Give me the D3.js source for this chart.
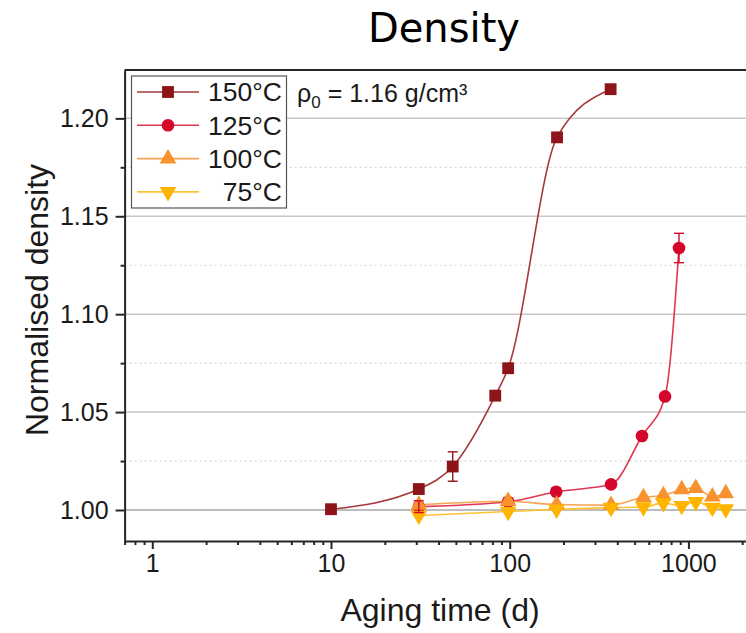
<!DOCTYPE html>
<html>
<head>
<meta charset="utf-8">
<script src="https://cdn.jsdelivr.net/npm/d3@7"></script>
<style>
  body { margin: 0; background: #fff; }
  svg { display: block; font-family: "Liberation Sans", Arial, sans-serif; }
</style>
</head>
<body>
<div class="graph-container"></div>
<script>
// aging time (days) and normalised density
var times150 = [10, 31, 48, 83, 98, 184, 367];
var dens150 = [1.0004, 1.0107, 1.0222, 1.0584, 1.0724, 1.1903, 1.2149];
var err150 = [0, 0, 0.0075, 0, 0, 0, 0];

var times125 = [31, 98, 182, 369, 550, 740, 886];
var dens125 = [1.0017, 1.0042, 1.0093, 1.0131, 1.0378, 1.0580, 1.1338];
var err125 = [0.003, 0, 0, 0, 0, 0, 0.0075];

var times100 = [31, 98, 183, 369, 560, 724, 917, 1099, 1361, 1618];
var dens100 = [1.0026, 1.0045, 1.0028, 1.0025, 1.0065, 1.0075, 1.0105, 1.0112, 1.0068, 1.0085];

var times75 = [31, 98, 183, 369, 560, 724, 917, 1099, 1361, 1618];
var dens75 = [0.9972, 0.9992, 1.0003, 1.0012, 1.0015, 1.0035, 1.0022, 1.0042, 1.0012, 1.0005];

var seriesNames = ['150°C', '125°C', '100°C', '75°C'];
var xMajorTicks = [1, 10, 100, 1000];
var yMajorTicks = [1.00, 1.05, 1.10, 1.15, 1.20];
var yMinorTicks = [1.025, 1.075, 1.125, 1.175];

var svgWidth = 746;
var svgHeight = 633;
var plotLeft = 124.6;
var plotRight = 765.5;
var plotTop = 70;
var plotBottom = 541;

// build the series list from the arrays above
var series = [
  { name: seriesNames[0], t: times150, d: dens150, e: err150, color: '#8d1519', line: '#a6393c', shape: 'square' },
  { name: seriesNames[1], t: times125, d: dens125, e: err125, color: '#d5062b', line: '#e0364f', shape: 'circle' },
  { name: seriesNames[2], t: times100, d: dens100, e: null, color: '#f7922e', line: '#f9a455', shape: 'up' },
  { name: seriesNames[3], t: times75, d: dens75, e: null, color: '#ffb400', line: '#ffc233', shape: 'down' }
];

function symbolPath(shape) {
  if (shape === 'square') return d3.symbol().type(d3.symbolSquare).size(140)();
  if (shape === 'circle') return d3.symbol().type(d3.symbolCircle).size(125)();
  return d3.symbol().type(d3.symbolTriangle).size(120)();
}

var svg = d3.select('.graph-container').append('svg')
  .attr('width', svgWidth)
  .attr('height', svgHeight);

var xScale = d3.scaleLog()
  .domain([0.7, 2700])
  .range([plotLeft, plotRight]);

var yScale = d3.scaleLinear()
  .domain([0.98417, 1.2247])
  .range([plotBottom, plotTop]);

// title
svg.append('text')
  .attr('x', 444)
  .attr('y', 42)
  .style('text-anchor', 'middle')
  .style('font-family', '"DejaVu Sans", sans-serif')
  .style('font-size', '40px')
  .text('Density');

// gridlines: solid at majors, dotted at minors
svg.append('g').selectAll('line')
  .data(yMinorTicks)
  .enter()
  .append('line')
  .attr('x1', plotLeft).attr('x2', plotRight)
  .attr('y1', function(d) { return yScale(d); })
  .attr('y2', function(d) { return yScale(d); })
  .attr('stroke', '#d6d6d6')
  .attr('stroke-width', 1.2)
  .attr('stroke-dasharray', '2,3');

svg.append('g').selectAll('line')
  .data(yMajorTicks)
  .enter()
  .append('line')
  .attr('x1', plotLeft).attr('x2', plotRight)
  .attr('y1', function(d) { return yScale(d); })
  .attr('y2', function(d) { return yScale(d); })
  .attr('stroke', function(d) { return d === 1 ? '#bdbdbd' : '#c8c8c8'; })
  .attr('stroke-width', function(d) { return d === 1 ? 2 : 1.5; });

// lines through the points
var line = d3.line()
  .x(function(p) { return xScale(p[0]); })
  .y(function(p) { return yScale(p[1]); })
  .curve(d3.curveMonotoneX);

series.forEach(function(s) {
  var pts = s.t.map(function(t, i) { return [t, s.d[i]]; });
  svg.append('path')
    .attr('d', line(pts))
    .attr('fill', 'none')
    .attr('stroke', s.line)
    .attr('stroke-width', 1.6);
});

// markers
series.forEach(function(s) {
  svg.append('g').selectAll('path')
    .data(s.t.map(function(t, i) { return [t, s.d[i]]; }))
    .enter()
    .append('path')
    .attr('d', symbolPath(s.shape))
    .attr('transform', function(p) {
      return 'translate(' + xScale(p[0]) + ',' + yScale(p[1]) + ')' + (s.shape === 'down' ? ' rotate(180)' : '');
    })
    .attr('fill', s.color);
});

// error bars
series.forEach(function(s) {
  if (!s.e) return;
  s.t.forEach(function(t, i) {
    if (!s.e[i]) return;
    var cx = xScale(t);
    var y1 = yScale(s.d[i] + s.e[i]);
    var y2 = yScale(s.d[i] - s.e[i]);
    var g = svg.append('g').attr('stroke', s.color).attr('stroke-width', 1.4);
    g.append('line').attr('x1', cx).attr('x2', cx).attr('y1', y1).attr('y2', y2);
    g.append('line').attr('x1', cx - 5).attr('x2', cx + 5).attr('y1', y1).attr('y2', y1);
    g.append('line').attr('x1', cx - 5).attr('x2', cx + 5).attr('y1', y2).attr('y2', y2);
  });
});

// x axis, major and minor ticks
var xMinorTicks = [];
[0.1, 1, 10, 100, 1000].forEach(function(dec) {
  for (var k = 2; k <= 9; k++) {
    var v = dec * k;
    if (v >= 0.7 && v <= 2700) xMinorTicks.push(v);
  }
});

svg.append('g')
  .attr('transform', 'translate(0,' + plotBottom + ')')
  .call(d3.axisBottom(xScale).tickValues(xMinorTicks).tickSize(4).tickFormat(''))
  .call(function(g) { g.select('.domain').remove(); });

var xAxis = svg.append('g')
  .attr('class', 'x-axis')
  .attr('transform', 'translate(0,' + plotBottom + ')')
  .call(d3.axisBottom(xScale).tickValues(xMajorTicks).tickSize(8).tickSizeOuter(0).tickPadding(5).tickFormat(d3.format('d')));

// y axis
svg.append('g')
  .attr('transform', 'translate(' + plotLeft + ',0)')
  .call(d3.axisLeft(yScale).tickValues(yMinorTicks).tickSize(4).tickFormat(''))
  .call(function(g) { g.select('.domain').remove(); });

var yAxis = svg.append('g')
  .attr('class', 'y-axis')
  .attr('transform', 'translate(' + plotLeft + ',0)')
  .call(d3.axisLeft(yScale).tickValues(yMajorTicks).tickSize(9).tickSizeOuter(0).tickPadding(7).tickFormat(d3.format('.2f')));

svg.selectAll('.x-axis text, .y-axis text')
  .style('font-family', '"Liberation Sans", Arial, sans-serif')
  .style('font-size', '25px')
  .attr('fill', '#1a1a1a');

svg.selectAll('.tick line, .domain')
  .attr('stroke', '#262626')
  .attr('stroke-width', 2);

// top frame line
svg.append('line')
  .attr('x1', plotLeft).attr('x2', plotRight)
  .attr('y1', plotTop).attr('y2', plotTop)
  .attr('stroke', '#262626')
  .attr('stroke-width', 2);

// axis titles
svg.append('text')
  .attr('x', 440)
  .attr('y', 621)
  .style('text-anchor', 'middle')
  .style('font-size', '32px')
  .attr('fill', '#1a1a1a')
  .text('Aging time (d)');

svg.append('text')
  .attr('transform', 'translate(48,300) rotate(-90)')
  .style('text-anchor', 'middle')
  .style('font-size', '32px')
  .attr('fill', '#1a1a1a')
  .text('Normalised density');

// legend box
var legend = svg.append('g');
legend.append('rect')
  .attr('x', 131.5).attr('y', 76)
  .attr('width', 155).attr('height', 132)
  .attr('fill', '#fff')
  .attr('stroke', '#555')
  .attr('stroke-width', 1.2);

series.forEach(function(s, i) {
  var cy = 92 + i * 33.3;
  legend.append('line')
    .attr('x1', 137).attr('x2', 199)
    .attr('y1', cy).attr('y2', cy)
    .attr('stroke', s.line)
    .attr('stroke-width', 1.6);
  legend.append('path')
    .attr('d', symbolPath(s.shape))
    .attr('transform', 'translate(168,' + cy + ')' + (s.shape === 'down' ? ' rotate(180)' : ''))
    .attr('fill', s.color);
  legend.append('text')
    .attr('x', 282)
    .attr('y', cy)
    .attr('dy', '0.35em')
    .style('text-anchor', 'end')
    .style('font-size', '26.5px')
    .attr('fill', '#1a1a1a')
    .text(s.name);
});

// reference density note
var note = svg.append('text')
  .attr('x', 297)
  .attr('y', 93)
  .attr('dy', '0.35em')
  .style('font-size', '25px')
  .attr('fill', '#1a1a1a');
note.append('tspan').text('ρ');
note.append('tspan').attr('dy', 6).style('font-size', '17px').text('0');
note.append('tspan').attr('dy', -6).text(' = 1.16 g/cm³');
</script>
</body>
</html>
